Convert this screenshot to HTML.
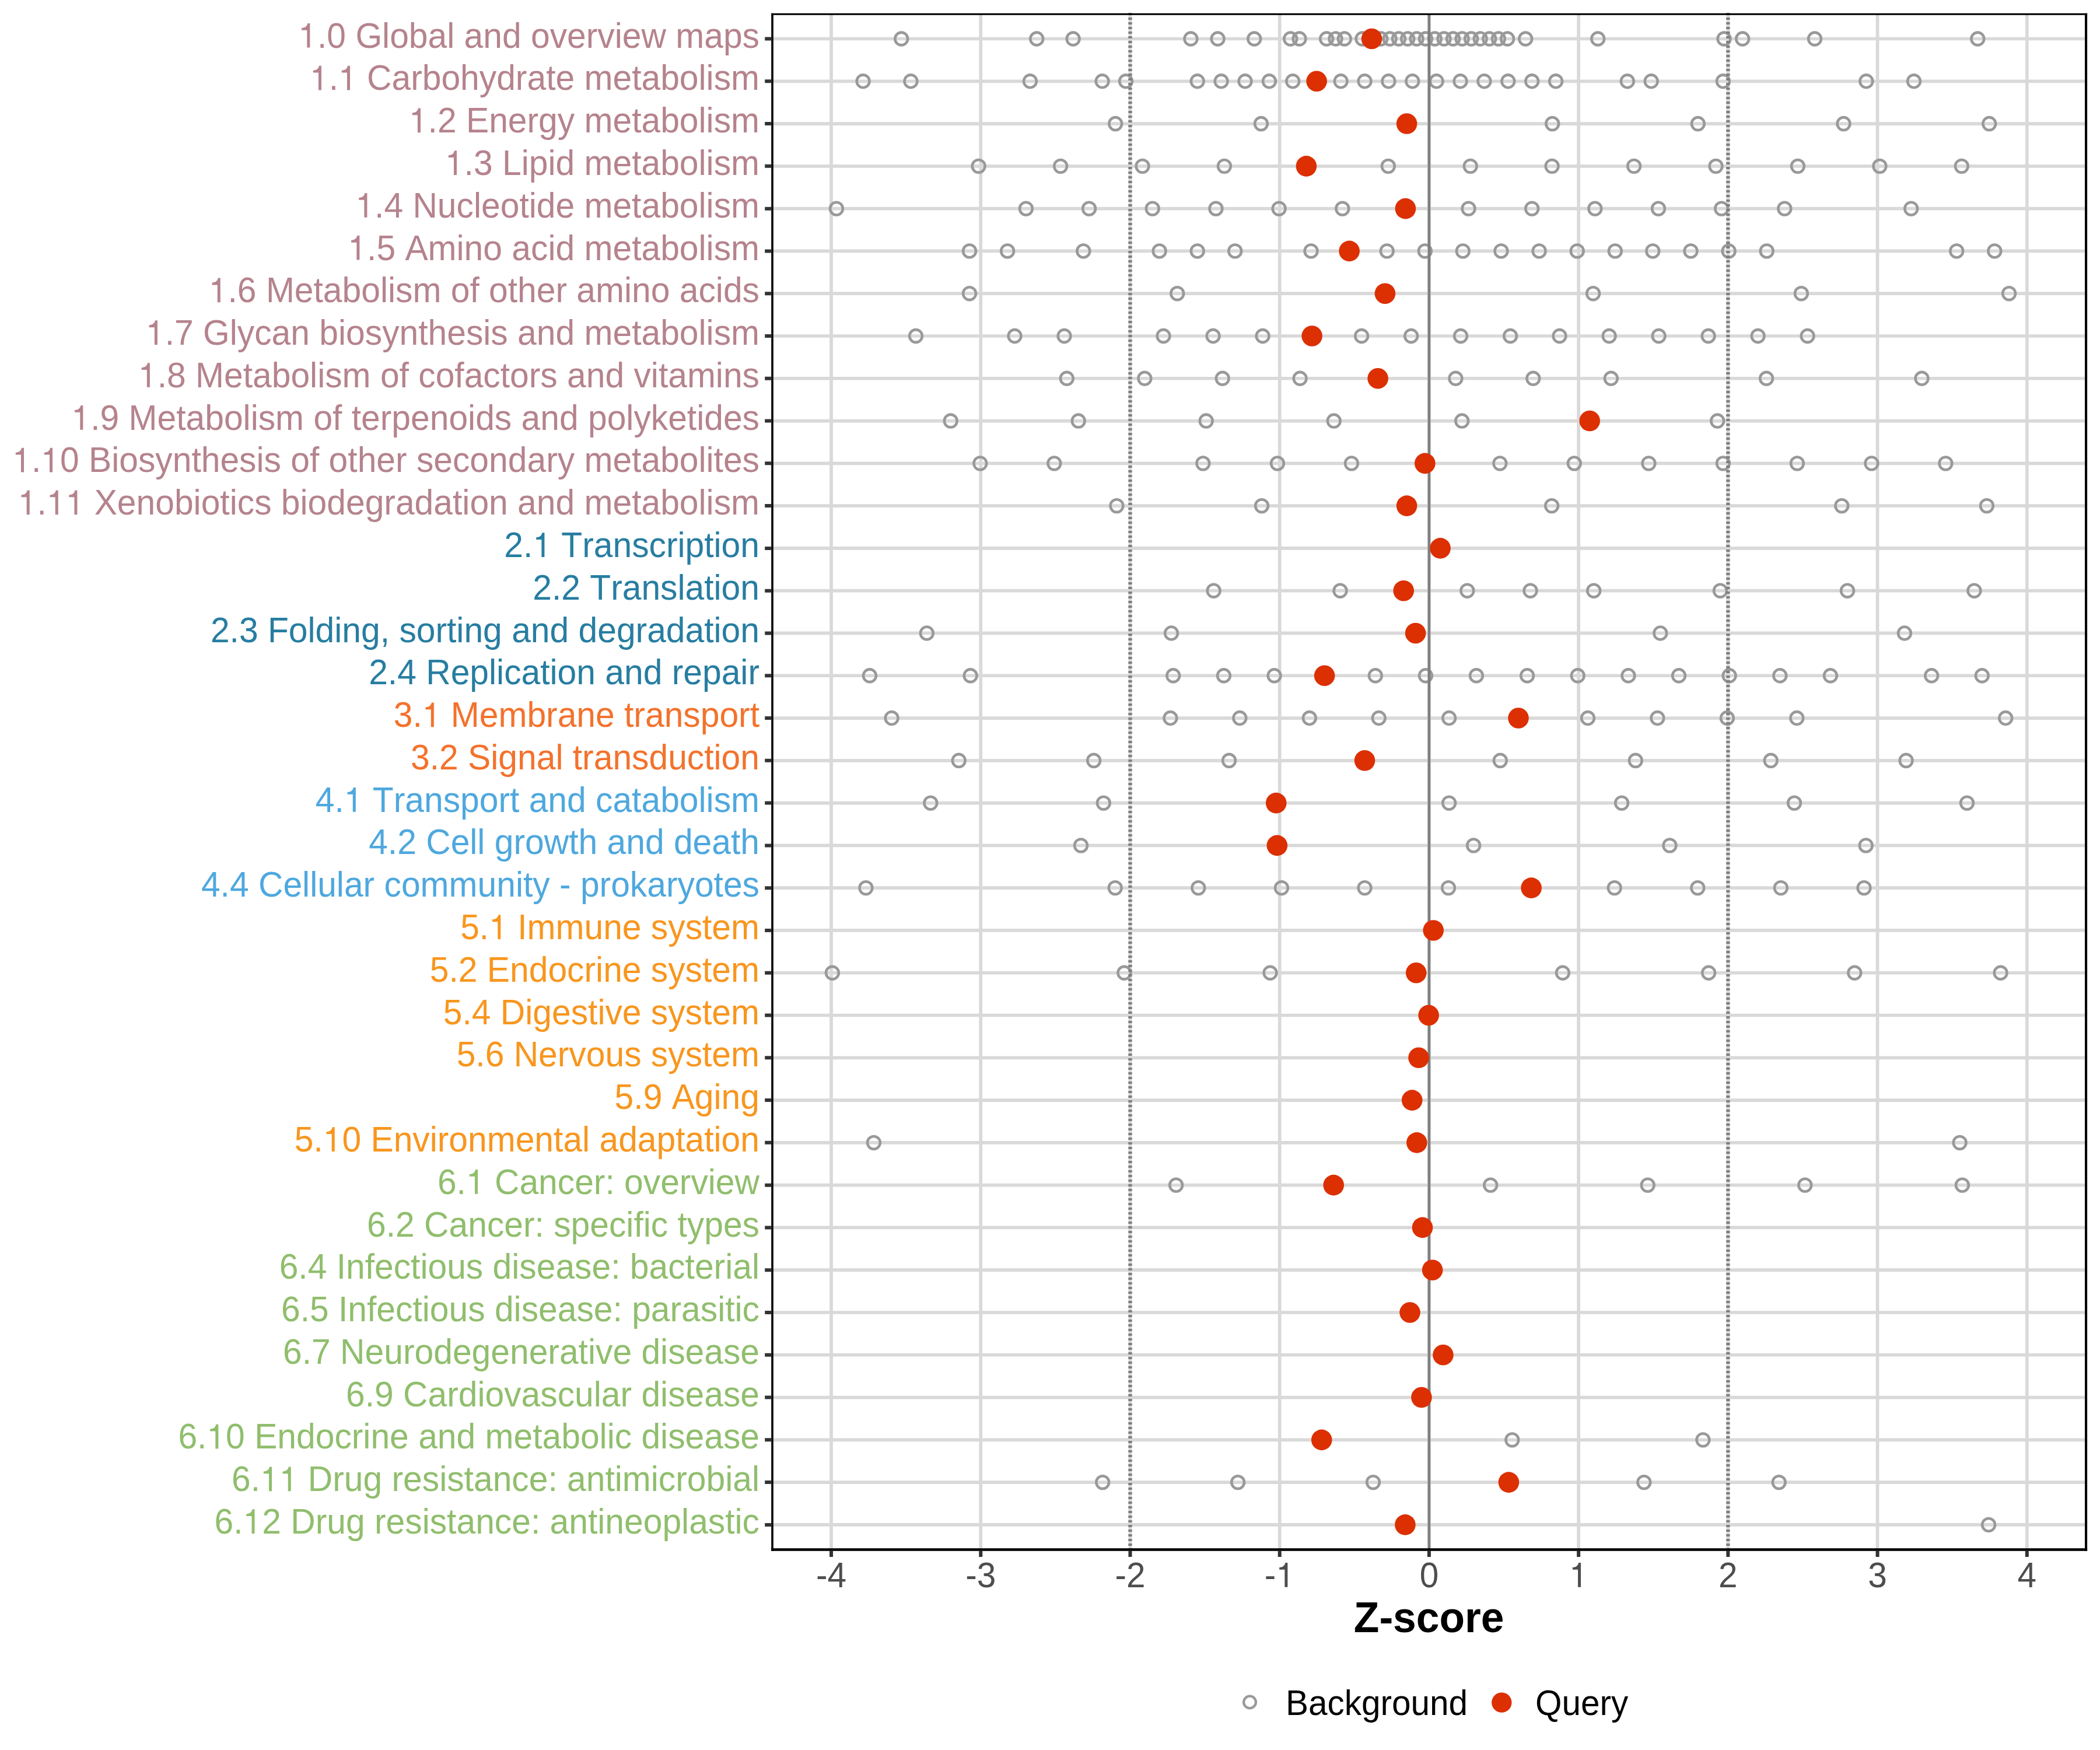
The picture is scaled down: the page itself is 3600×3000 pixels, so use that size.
<!DOCTYPE html><html><head><meta charset="utf-8"><style>html,body{margin:0;padding:0;background:#fff;overflow:hidden;width:3600px;height:3000px;}svg{display:block;}text{font-family:"Liberation Sans",sans-serif;font-kerning:none;}</style></head><body>
<svg width="3600" height="3000" viewBox="0 0 3600 3000">
<rect x="0" y="0" width="3600" height="3000" fill="#fff"/>
<path d="M1324.0 66.50H3576.0M1324.0 139.28H3576.0M1324.0 212.07H3576.0M1324.0 284.85H3576.0M1324.0 357.63H3576.0M1324.0 430.42H3576.0M1324.0 503.20H3576.0M1324.0 575.98H3576.0M1324.0 648.76H3576.0M1324.0 721.55H3576.0M1324.0 794.33H3576.0M1324.0 867.11H3576.0M1324.0 939.90H3576.0M1324.0 1012.68H3576.0M1324.0 1085.46H3576.0M1324.0 1158.25H3576.0M1324.0 1231.03H3576.0M1324.0 1303.81H3576.0M1324.0 1376.59H3576.0M1324.0 1449.38H3576.0M1324.0 1522.16H3576.0M1324.0 1594.94H3576.0M1324.0 1667.73H3576.0M1324.0 1740.51H3576.0M1324.0 1813.29H3576.0M1324.0 1886.08H3576.0M1324.0 1958.86H3576.0M1324.0 2031.64H3576.0M1324.0 2104.42H3576.0M1324.0 2177.21H3576.0M1324.0 2249.99H3576.0M1324.0 2322.77H3576.0M1324.0 2395.56H3576.0M1324.0 2468.34H3576.0M1324.0 2541.12H3576.0M1324.0 2613.91H3576.0M1425.00 24.3V2656.5M1681.22 24.3V2656.5M1937.45 24.3V2656.5M2193.68 24.3V2656.5M2449.90 24.3V2656.5M2706.12 24.3V2656.5M2962.35 24.3V2656.5M3218.58 24.3V2656.5M3474.80 24.3V2656.5" stroke="#D9D9D9" stroke-width="5.7" fill="none"/>
<g fill="none" stroke="#999999" stroke-width="4.6"><circle cx="1545.2" cy="66.50" r="10.9"/><circle cx="1777.2" cy="66.50" r="10.9"/><circle cx="1839.6" cy="66.50" r="10.9"/><circle cx="2041.4" cy="66.50" r="10.9"/><circle cx="2087.6" cy="66.50" r="10.9"/><circle cx="2150.2" cy="66.50" r="10.9"/><circle cx="2212.2" cy="66.50" r="10.9"/><circle cx="2227.5" cy="66.50" r="10.9"/><circle cx="2274.1" cy="66.50" r="10.9"/><circle cx="2289.5" cy="66.50" r="10.9"/><circle cx="2304.8" cy="66.50" r="10.9"/><circle cx="2335.5" cy="66.50" r="10.9"/><circle cx="2367.2" cy="66.50" r="10.9"/><circle cx="2382.6" cy="66.50" r="10.9"/><circle cx="2397.9" cy="66.50" r="10.9"/><circle cx="2413.2" cy="66.50" r="10.9"/><circle cx="2428.6" cy="66.50" r="10.9"/><circle cx="2443.9" cy="66.50" r="10.9"/><circle cx="2459.7" cy="66.50" r="10.9"/><circle cx="2475.5" cy="66.50" r="10.9"/><circle cx="2491.0" cy="66.50" r="10.9"/><circle cx="2506.6" cy="66.50" r="10.9"/><circle cx="2522.1" cy="66.50" r="10.9"/><circle cx="2537.7" cy="66.50" r="10.9"/><circle cx="2553.2" cy="66.50" r="10.9"/><circle cx="2568.8" cy="66.50" r="10.9"/><circle cx="2584.1" cy="66.50" r="10.9"/><circle cx="2615.2" cy="66.50" r="10.9"/><circle cx="2739.2" cy="66.50" r="10.9"/><circle cx="2955.5" cy="66.50" r="10.9"/><circle cx="2987.2" cy="66.50" r="10.9"/><circle cx="3111.0" cy="66.50" r="10.9"/><circle cx="3390.3" cy="66.50" r="10.9"/><circle cx="1479.6" cy="139.28" r="10.9"/><circle cx="1561.4" cy="139.28" r="10.9"/><circle cx="1765.9" cy="139.28" r="10.9"/><circle cx="1889.6" cy="139.28" r="10.9"/><circle cx="1930.0" cy="139.28" r="10.9"/><circle cx="2052.7" cy="139.28" r="10.9"/><circle cx="2093.6" cy="139.28" r="10.9"/><circle cx="2134.5" cy="139.28" r="10.9"/><circle cx="2175.9" cy="139.28" r="10.9"/><circle cx="2216.2" cy="139.28" r="10.9"/><circle cx="2298.6" cy="139.28" r="10.9"/><circle cx="2339.5" cy="139.28" r="10.9"/><circle cx="2380.4" cy="139.28" r="10.9"/><circle cx="2421.3" cy="139.28" r="10.9"/><circle cx="2462.6" cy="139.28" r="10.9"/><circle cx="2503.5" cy="139.28" r="10.9"/><circle cx="2544.4" cy="139.28" r="10.9"/><circle cx="2585.3" cy="139.28" r="10.9"/><circle cx="2626.2" cy="139.28" r="10.9"/><circle cx="2667.1" cy="139.28" r="10.9"/><circle cx="2789.8" cy="139.28" r="10.9"/><circle cx="2830.7" cy="139.28" r="10.9"/><circle cx="2953.9" cy="139.28" r="10.9"/><circle cx="3199.3" cy="139.28" r="10.9"/><circle cx="3281.0" cy="139.28" r="10.9"/><circle cx="1912.2" cy="212.07" r="10.9"/><circle cx="2161.9" cy="212.07" r="10.9"/><circle cx="2661.2" cy="212.07" r="10.9"/><circle cx="2910.8" cy="212.07" r="10.9"/><circle cx="3160.5" cy="212.07" r="10.9"/><circle cx="3410.2" cy="212.07" r="10.9"/><circle cx="1677.6" cy="284.85" r="10.9"/><circle cx="1818.1" cy="284.85" r="10.9"/><circle cx="1958.5" cy="284.85" r="10.9"/><circle cx="2098.9" cy="284.85" r="10.9"/><circle cx="2379.8" cy="284.85" r="10.9"/><circle cx="2520.7" cy="284.85" r="10.9"/><circle cx="2660.6" cy="284.85" r="10.9"/><circle cx="2801.1" cy="284.85" r="10.9"/><circle cx="2941.5" cy="284.85" r="10.9"/><circle cx="3081.9" cy="284.85" r="10.9"/><circle cx="3222.4" cy="284.85" r="10.9"/><circle cx="3362.8" cy="284.85" r="10.9"/><circle cx="1433.9" cy="357.63" r="10.9"/><circle cx="1758.9" cy="357.63" r="10.9"/><circle cx="1867.0" cy="357.63" r="10.9"/><circle cx="1975.7" cy="357.63" r="10.9"/><circle cx="2084.4" cy="357.63" r="10.9"/><circle cx="2192.6" cy="357.63" r="10.9"/><circle cx="2301.3" cy="357.63" r="10.9"/><circle cx="2517.5" cy="357.63" r="10.9"/><circle cx="2626.2" cy="357.63" r="10.9"/><circle cx="2734.3" cy="357.63" r="10.9"/><circle cx="2843.0" cy="357.63" r="10.9"/><circle cx="2951.2" cy="357.63" r="10.9"/><circle cx="3059.3" cy="357.63" r="10.9"/><circle cx="3276.2" cy="357.63" r="10.9"/><circle cx="1662.0" cy="430.42" r="10.9"/><circle cx="1727.1" cy="430.42" r="10.9"/><circle cx="1857.3" cy="430.42" r="10.9"/><circle cx="1987.6" cy="430.42" r="10.9"/><circle cx="2052.7" cy="430.42" r="10.9"/><circle cx="2117.2" cy="430.42" r="10.9"/><circle cx="2247.5" cy="430.42" r="10.9"/><circle cx="2377.7" cy="430.42" r="10.9"/><circle cx="2442.8" cy="430.42" r="10.9"/><circle cx="2507.8" cy="430.42" r="10.9"/><circle cx="2573.4" cy="430.42" r="10.9"/><circle cx="2638.6" cy="430.42" r="10.9"/><circle cx="2703.7" cy="430.42" r="10.9"/><circle cx="2768.8" cy="430.42" r="10.9"/><circle cx="2833.3" cy="430.42" r="10.9"/><circle cx="2898.5" cy="430.42" r="10.9"/><circle cx="2963.6" cy="430.42" r="10.9"/><circle cx="3028.7" cy="430.42" r="10.9"/><circle cx="3354.2" cy="430.42" r="10.9"/><circle cx="3419.3" cy="430.42" r="10.9"/><circle cx="1662.0" cy="503.20" r="10.9"/><circle cx="2018.2" cy="503.20" r="10.9"/><circle cx="2731.1" cy="503.20" r="10.9"/><circle cx="3087.9" cy="503.20" r="10.9"/><circle cx="3444.1" cy="503.20" r="10.9"/><circle cx="1570.0" cy="575.98" r="10.9"/><circle cx="1739.5" cy="575.98" r="10.9"/><circle cx="1824.5" cy="575.98" r="10.9"/><circle cx="1994.5" cy="575.98" r="10.9"/><circle cx="2079.6" cy="575.98" r="10.9"/><circle cx="2164.6" cy="575.98" r="10.9"/><circle cx="2334.1" cy="575.98" r="10.9"/><circle cx="2419.1" cy="575.98" r="10.9"/><circle cx="2504.0" cy="575.98" r="10.9"/><circle cx="2589.1" cy="575.98" r="10.9"/><circle cx="2673.5" cy="575.98" r="10.9"/><circle cx="2758.6" cy="575.98" r="10.9"/><circle cx="2843.6" cy="575.98" r="10.9"/><circle cx="2928.6" cy="575.98" r="10.9"/><circle cx="3013.6" cy="575.98" r="10.9"/><circle cx="3098.6" cy="575.98" r="10.9"/><circle cx="1828.8" cy="648.76" r="10.9"/><circle cx="1962.3" cy="648.76" r="10.9"/><circle cx="2095.7" cy="648.76" r="10.9"/><circle cx="2228.6" cy="648.76" r="10.9"/><circle cx="2495.4" cy="648.76" r="10.9"/><circle cx="2628.3" cy="648.76" r="10.9"/><circle cx="2761.8" cy="648.76" r="10.9"/><circle cx="3028.1" cy="648.76" r="10.9"/><circle cx="3294.5" cy="648.76" r="10.9"/><circle cx="1629.7" cy="721.55" r="10.9"/><circle cx="1848.7" cy="721.55" r="10.9"/><circle cx="2067.7" cy="721.55" r="10.9"/><circle cx="2286.7" cy="721.55" r="10.9"/><circle cx="2506.2" cy="721.55" r="10.9"/><circle cx="2944.2" cy="721.55" r="10.9"/><circle cx="1680.3" cy="794.33" r="10.9"/><circle cx="1807.3" cy="794.33" r="10.9"/><circle cx="2062.3" cy="794.33" r="10.9"/><circle cx="2189.9" cy="794.33" r="10.9"/><circle cx="2316.9" cy="794.33" r="10.9"/><circle cx="2571.3" cy="794.33" r="10.9"/><circle cx="2698.8" cy="794.33" r="10.9"/><circle cx="2826.4" cy="794.33" r="10.9"/><circle cx="2953.9" cy="794.33" r="10.9"/><circle cx="3080.9" cy="794.33" r="10.9"/><circle cx="3208.4" cy="794.33" r="10.9"/><circle cx="3335.4" cy="794.33" r="10.9"/><circle cx="1914.4" cy="867.11" r="10.9"/><circle cx="2163.0" cy="867.11" r="10.9"/><circle cx="2660.1" cy="867.11" r="10.9"/><circle cx="3157.3" cy="867.11" r="10.9"/><circle cx="3405.9" cy="867.11" r="10.9"/><circle cx="2080.6" cy="1012.68" r="10.9"/><circle cx="2297.5" cy="1012.68" r="10.9"/><circle cx="2515.3" cy="1012.68" r="10.9"/><circle cx="2623.5" cy="1012.68" r="10.9"/><circle cx="2732.2" cy="1012.68" r="10.9"/><circle cx="2949.0" cy="1012.68" r="10.9"/><circle cx="3167.0" cy="1012.68" r="10.9"/><circle cx="3384.4" cy="1012.68" r="10.9"/><circle cx="1588.8" cy="1085.46" r="10.9"/><circle cx="2008.0" cy="1085.46" r="10.9"/><circle cx="2846.3" cy="1085.46" r="10.9"/><circle cx="3264.9" cy="1085.46" r="10.9"/><circle cx="1490.9" cy="1158.25" r="10.9"/><circle cx="1663.6" cy="1158.25" r="10.9"/><circle cx="2011.2" cy="1158.25" r="10.9"/><circle cx="2097.9" cy="1158.25" r="10.9"/><circle cx="2184.5" cy="1158.25" r="10.9"/><circle cx="2357.8" cy="1158.25" r="10.9"/><circle cx="2443.9" cy="1158.25" r="10.9"/><circle cx="2530.9" cy="1158.25" r="10.9"/><circle cx="2618.1" cy="1158.25" r="10.9"/><circle cx="2704.7" cy="1158.25" r="10.9"/><circle cx="2791.4" cy="1158.25" r="10.9"/><circle cx="2878.0" cy="1158.25" r="10.9"/><circle cx="2964.6" cy="1158.25" r="10.9"/><circle cx="3051.3" cy="1158.25" r="10.9"/><circle cx="3137.9" cy="1158.25" r="10.9"/><circle cx="3311.2" cy="1158.25" r="10.9"/><circle cx="3397.8" cy="1158.25" r="10.9"/><circle cx="1528.6" cy="1231.03" r="10.9"/><circle cx="2006.4" cy="1231.03" r="10.9"/><circle cx="2125.3" cy="1231.03" r="10.9"/><circle cx="2244.8" cy="1231.03" r="10.9"/><circle cx="2363.7" cy="1231.03" r="10.9"/><circle cx="2484.1" cy="1231.03" r="10.9"/><circle cx="2722.0" cy="1231.03" r="10.9"/><circle cx="2841.4" cy="1231.03" r="10.9"/><circle cx="2960.9" cy="1231.03" r="10.9"/><circle cx="3080.3" cy="1231.03" r="10.9"/><circle cx="3438.2" cy="1231.03" r="10.9"/><circle cx="1643.7" cy="1303.81" r="10.9"/><circle cx="1875.1" cy="1303.81" r="10.9"/><circle cx="2107.0" cy="1303.81" r="10.9"/><circle cx="2571.8" cy="1303.81" r="10.9"/><circle cx="2803.8" cy="1303.81" r="10.9"/><circle cx="3035.7" cy="1303.81" r="10.9"/><circle cx="3267.6" cy="1303.81" r="10.9"/><circle cx="1595.3" cy="1376.59" r="10.9"/><circle cx="1891.8" cy="1376.59" r="10.9"/><circle cx="2484.1" cy="1376.59" r="10.9"/><circle cx="2780.1" cy="1376.59" r="10.9"/><circle cx="3076.0" cy="1376.59" r="10.9"/><circle cx="3372.0" cy="1376.59" r="10.9"/><circle cx="1853.0" cy="1449.38" r="10.9"/><circle cx="2526.1" cy="1449.38" r="10.9"/><circle cx="2862.4" cy="1449.38" r="10.9"/><circle cx="3198.7" cy="1449.38" r="10.9"/><circle cx="1484.4" cy="1522.16" r="10.9"/><circle cx="1911.7" cy="1522.16" r="10.9"/><circle cx="2054.3" cy="1522.16" r="10.9"/><circle cx="2196.9" cy="1522.16" r="10.9"/><circle cx="2339.5" cy="1522.16" r="10.9"/><circle cx="2483.0" cy="1522.16" r="10.9"/><circle cx="2767.7" cy="1522.16" r="10.9"/><circle cx="2910.3" cy="1522.16" r="10.9"/><circle cx="3052.9" cy="1522.16" r="10.9"/><circle cx="3195.5" cy="1522.16" r="10.9"/><circle cx="1426.9" cy="1667.73" r="10.9"/><circle cx="1927.3" cy="1667.73" r="10.9"/><circle cx="2177.5" cy="1667.73" r="10.9"/><circle cx="2678.9" cy="1667.73" r="10.9"/><circle cx="2929.1" cy="1667.73" r="10.9"/><circle cx="3179.3" cy="1667.73" r="10.9"/><circle cx="3429.6" cy="1667.73" r="10.9"/><circle cx="1497.9" cy="1958.86" r="10.9"/><circle cx="3359.6" cy="1958.86" r="10.9"/><circle cx="2016.1" cy="2031.64" r="10.9"/><circle cx="2555.2" cy="2031.64" r="10.9"/><circle cx="2824.7" cy="2031.64" r="10.9"/><circle cx="3094.3" cy="2031.64" r="10.9"/><circle cx="3363.9" cy="2031.64" r="10.9"/><circle cx="2592.3" cy="2468.34" r="10.9"/><circle cx="2919.4" cy="2468.34" r="10.9"/><circle cx="1890.2" cy="2541.12" r="10.9"/><circle cx="2122.1" cy="2541.12" r="10.9"/><circle cx="2354.0" cy="2541.12" r="10.9"/><circle cx="2818.3" cy="2541.12" r="10.9"/><circle cx="3049.7" cy="2541.12" r="10.9"/><circle cx="3409.1" cy="2613.91" r="10.9"/></g>
<path d="M1937.45 22V2656.5M2962.35 22V2656.5" stroke="#7F7F7F" stroke-width="6.4" stroke-dasharray="4 4" fill="none"/>
<path d="M2449.90 24.3V2656.5" stroke="#7F7F7F" stroke-width="4.6" fill="none"/>
<g fill="#DC2F02"><circle cx="2351.5" cy="66.50" r="17.8"/><circle cx="2257.1" cy="139.28" r="17.8"/><circle cx="2411.6" cy="212.07" r="17.8"/><circle cx="2239.4" cy="284.85" r="17.8"/><circle cx="2409.4" cy="357.63" r="17.8"/><circle cx="2313.1" cy="430.42" r="17.8"/><circle cx="2374.4" cy="503.20" r="17.8"/><circle cx="2249.1" cy="575.98" r="17.8"/><circle cx="2362.1" cy="648.76" r="17.8"/><circle cx="2725.2" cy="721.55" r="17.8"/><circle cx="2442.8" cy="794.33" r="17.8"/><circle cx="2411.6" cy="867.11" r="17.8"/><circle cx="2469.1" cy="939.90" r="17.8"/><circle cx="2406.2" cy="1012.68" r="17.8"/><circle cx="2426.6" cy="1085.46" r="17.8"/><circle cx="2270.6" cy="1158.25" r="17.8"/><circle cx="2603.0" cy="1231.03" r="17.8"/><circle cx="2339.5" cy="1303.81" r="17.8"/><circle cx="2187.7" cy="1376.59" r="17.8"/><circle cx="2189.3" cy="1449.38" r="17.8"/><circle cx="2625.1" cy="1522.16" r="17.8"/><circle cx="2457.2" cy="1594.94" r="17.8"/><circle cx="2427.7" cy="1667.73" r="17.8"/><circle cx="2449.1" cy="1740.51" r="17.8"/><circle cx="2432.0" cy="1813.29" r="17.8"/><circle cx="2420.7" cy="1886.08" r="17.8"/><circle cx="2428.8" cy="1958.86" r="17.8"/><circle cx="2286.2" cy="2031.64" r="17.8"/><circle cx="2438.5" cy="2104.42" r="17.8"/><circle cx="2455.6" cy="2177.21" r="17.8"/><circle cx="2417.0" cy="2249.99" r="17.8"/><circle cx="2473.9" cy="2322.77" r="17.8"/><circle cx="2436.9" cy="2395.56" r="17.8"/><circle cx="2265.7" cy="2468.34" r="17.8"/><circle cx="2586.4" cy="2541.12" r="17.8"/><circle cx="2408.9" cy="2613.91" r="17.8"/></g>
<rect x="1322.2" y="22.8" width="2255.9" height="3" fill="#000"/>
<rect x="1322.2" y="22.8" width="3.6" height="2636.0" fill="#000"/>
<rect x="3574" y="22.8" width="4.1" height="2636.0" fill="#000"/>
<rect x="1322.2" y="2654.2" width="2255.9" height="4.6" fill="#000"/>
<path d="M1311.2 66.50H1322.2M1311.2 139.28H1322.2M1311.2 212.07H1322.2M1311.2 284.85H1322.2M1311.2 357.63H1322.2M1311.2 430.42H1322.2M1311.2 503.20H1322.2M1311.2 575.98H1322.2M1311.2 648.76H1322.2M1311.2 721.55H1322.2M1311.2 794.33H1322.2M1311.2 867.11H1322.2M1311.2 939.90H1322.2M1311.2 1012.68H1322.2M1311.2 1085.46H1322.2M1311.2 1158.25H1322.2M1311.2 1231.03H1322.2M1311.2 1303.81H1322.2M1311.2 1376.59H1322.2M1311.2 1449.38H1322.2M1311.2 1522.16H1322.2M1311.2 1594.94H1322.2M1311.2 1667.73H1322.2M1311.2 1740.51H1322.2M1311.2 1813.29H1322.2M1311.2 1886.08H1322.2M1311.2 1958.86H1322.2M1311.2 2031.64H1322.2M1311.2 2104.42H1322.2M1311.2 2177.21H1322.2M1311.2 2249.99H1322.2M1311.2 2322.77H1322.2M1311.2 2395.56H1322.2M1311.2 2468.34H1322.2M1311.2 2541.12H1322.2M1311.2 2613.91H1322.2M1425.00 2658.8V2669M1681.22 2658.8V2669M1937.45 2658.8V2669M2193.68 2658.8V2669M2449.90 2658.8V2669M2706.12 2658.8V2669M2962.35 2658.8V2669M3218.58 2658.8V2669M3474.80 2658.8V2669" stroke="#333333" stroke-width="6" fill="none"/>
<g transform="translate(1302 81.60) scale(1 1.025)" fill="#B5838D"><text text-anchor="end" font-size="58.8"> .0 Global and overview maps</text><path transform="translate(-790.96 0) scale(58.8)" d="M0.260 0L0.345 0L0.345 -0.692L0.277 -0.692C0.265 -0.615 0.205 -0.560 0.103 -0.560L0.103 -0.496L0.260 -0.496Z"/></g>
<g transform="translate(1302 154.38) scale(1 1.025)" fill="#B5838D"><text text-anchor="end" font-size="58.8"> .  Carbohydrate metabolism</text><path transform="translate(-771.32 0) scale(58.8)" d="M0.260 0L0.345 0L0.345 -0.692L0.277 -0.692C0.265 -0.615 0.205 -0.560 0.103 -0.560L0.103 -0.496L0.260 -0.496Z"/><path transform="translate(-722.28 0) scale(58.8)" d="M0.260 0L0.345 0L0.345 -0.692L0.277 -0.692C0.265 -0.615 0.205 -0.560 0.103 -0.560L0.103 -0.496L0.260 -0.496Z"/></g>
<g transform="translate(1302 227.17) scale(1 1.025)" fill="#B5838D"><text text-anchor="end" font-size="58.8"> .2 Energy metabolism</text><path transform="translate(-601.35 0) scale(58.8)" d="M0.260 0L0.345 0L0.345 -0.692L0.277 -0.692C0.265 -0.615 0.205 -0.560 0.103 -0.560L0.103 -0.496L0.260 -0.496Z"/></g>
<g transform="translate(1302 299.95) scale(1 1.025)" fill="#B5838D"><text text-anchor="end" font-size="58.8"> .3 Lipid metabolism</text><path transform="translate(-539.28 0) scale(58.8)" d="M0.260 0L0.345 0L0.345 -0.692L0.277 -0.692C0.265 -0.615 0.205 -0.560 0.103 -0.560L0.103 -0.496L0.260 -0.496Z"/></g>
<g transform="translate(1302 372.73) scale(1 1.025)" fill="#B5838D"><text text-anchor="end" font-size="58.8"> .4 Nucleotide metabolism</text><path transform="translate(-692.88 0) scale(58.8)" d="M0.260 0L0.345 0L0.345 -0.692L0.277 -0.692C0.265 -0.615 0.205 -0.560 0.103 -0.560L0.103 -0.496L0.260 -0.496Z"/></g>
<g transform="translate(1302 445.52) scale(1 1.025)" fill="#B5838D"><text text-anchor="end" font-size="58.8"> .5 Amino acid metabolism</text><path transform="translate(-705.92 0) scale(58.8)" d="M0.260 0L0.345 0L0.345 -0.692L0.277 -0.692C0.265 -0.615 0.205 -0.560 0.103 -0.560L0.103 -0.496L0.260 -0.496Z"/></g>
<g transform="translate(1302 518.30) scale(1 1.025)" fill="#B5838D"><text text-anchor="end" font-size="58.8"> .6 Metabolism of other amino acids</text><path transform="translate(-944.53 0) scale(58.8)" d="M0.260 0L0.345 0L0.345 -0.692L0.277 -0.692C0.265 -0.615 0.205 -0.560 0.103 -0.560L0.103 -0.496L0.260 -0.496Z"/></g>
<g transform="translate(1302 591.08) scale(1 1.025)" fill="#B5838D"><text text-anchor="end" font-size="58.8"> .7 Glycan biosynthesis and metabolism</text><path transform="translate(-1052.40 0) scale(58.8)" d="M0.260 0L0.345 0L0.345 -0.692L0.277 -0.692C0.265 -0.615 0.205 -0.560 0.103 -0.560L0.103 -0.496L0.260 -0.496Z"/></g>
<g transform="translate(1302 663.86) scale(1 1.025)" fill="#B5838D"><text text-anchor="end" font-size="58.8"> .8 Metabolism of cofactors and vitamins</text><path transform="translate(-1065.41 0) scale(58.8)" d="M0.260 0L0.345 0L0.345 -0.692L0.277 -0.692C0.265 -0.615 0.205 -0.560 0.103 -0.560L0.103 -0.496L0.260 -0.496Z"/></g>
<g transform="translate(1302 736.65) scale(1 1.025)" fill="#B5838D"><text text-anchor="end" font-size="58.8"> .9 Metabolism of terpenoids and polyketides</text><path transform="translate(-1179.96 0) scale(58.8)" d="M0.260 0L0.345 0L0.345 -0.692L0.277 -0.692C0.265 -0.615 0.205 -0.560 0.103 -0.560L0.103 -0.496L0.260 -0.496Z"/></g>
<g transform="translate(1302 809.43) scale(1 1.025)" fill="#B5838D"><text text-anchor="end" font-size="58.8"> . 0 Biosynthesis of other secondary metabolites</text><path transform="translate(-1281.25 0) scale(58.8)" d="M0.260 0L0.345 0L0.345 -0.692L0.277 -0.692C0.265 -0.615 0.205 -0.560 0.103 -0.560L0.103 -0.496L0.260 -0.496Z"/><path transform="translate(-1232.22 0) scale(58.8)" d="M0.260 0L0.345 0L0.345 -0.692L0.277 -0.692C0.265 -0.615 0.205 -0.560 0.103 -0.560L0.103 -0.496L0.260 -0.496Z"/></g>
<g transform="translate(1302 882.21) scale(1 1.025)" fill="#B5838D"><text text-anchor="end" font-size="58.8"> .   Xenobiotics biodegradation and metabolism</text><path transform="translate(-1271.58 0) scale(58.8)" d="M0.260 0L0.345 0L0.345 -0.692L0.277 -0.692C0.265 -0.615 0.205 -0.560 0.103 -0.560L0.103 -0.496L0.260 -0.496Z"/><path transform="translate(-1222.54 0) scale(58.8)" d="M0.260 0L0.345 0L0.345 -0.692L0.277 -0.692C0.265 -0.615 0.205 -0.560 0.103 -0.560L0.103 -0.496L0.260 -0.496Z"/><path transform="translate(-1189.84 0) scale(58.8)" d="M0.260 0L0.345 0L0.345 -0.692L0.277 -0.692C0.265 -0.615 0.205 -0.560 0.103 -0.560L0.103 -0.496L0.260 -0.496Z"/></g>
<g transform="translate(1302 955.00) scale(1 1.025)" fill="#277DA1"><text text-anchor="end" font-size="58.8">2.  Transcription</text><path transform="translate(-388.89 0) scale(58.8)" d="M0.260 0L0.345 0L0.345 -0.692L0.277 -0.692C0.265 -0.615 0.205 -0.560 0.103 -0.560L0.103 -0.496L0.260 -0.496Z"/></g>
<g transform="translate(1302 1027.78) scale(1 1.025)" fill="#277DA1"><text text-anchor="end" font-size="58.8">2.2 Translation</text></g>
<g transform="translate(1302 1100.56) scale(1 1.025)" fill="#277DA1"><text text-anchor="end" font-size="58.8">2.3 Folding, sorting and degradation</text></g>
<g transform="translate(1302 1173.35) scale(1 1.025)" fill="#277DA1"><text text-anchor="end" font-size="58.8">2.4 Replication and repair</text></g>
<g transform="translate(1302 1246.13) scale(1 1.025)" fill="#F3722C"><text text-anchor="end" font-size="58.8">3.  Membrane transport</text><path transform="translate(-578.47 0) scale(58.8)" d="M0.260 0L0.345 0L0.345 -0.692L0.277 -0.692C0.265 -0.615 0.205 -0.560 0.103 -0.560L0.103 -0.496L0.260 -0.496Z"/></g>
<g transform="translate(1302 1318.91) scale(1 1.025)" fill="#F3722C"><text text-anchor="end" font-size="58.8">3.2 Signal transduction</text></g>
<g transform="translate(1302 1391.69) scale(1 1.025)" fill="#4EA8DE"><text text-anchor="end" font-size="58.8">4.  Transport and catabolism</text><path transform="translate(-712.49 0) scale(58.8)" d="M0.260 0L0.345 0L0.345 -0.692L0.277 -0.692C0.265 -0.615 0.205 -0.560 0.103 -0.560L0.103 -0.496L0.260 -0.496Z"/></g>
<g transform="translate(1302 1464.48) scale(1 1.025)" fill="#4EA8DE"><text text-anchor="end" font-size="58.8">4.2 Cell growth and death</text></g>
<g transform="translate(1302 1537.26) scale(1 1.025)" fill="#4EA8DE"><text text-anchor="end" font-size="58.8">4.4 Cellular community - prokaryotes</text></g>
<g transform="translate(1302 1610.04) scale(1 1.025)" fill="#F8961E"><text text-anchor="end" font-size="58.8">5.  Immune system</text><path transform="translate(-464.00 0) scale(58.8)" d="M0.260 0L0.345 0L0.345 -0.692L0.277 -0.692C0.265 -0.615 0.205 -0.560 0.103 -0.560L0.103 -0.496L0.260 -0.496Z"/></g>
<g transform="translate(1302 1682.83) scale(1 1.025)" fill="#F8961E"><text text-anchor="end" font-size="58.8">5.2 Endocrine system</text></g>
<g transform="translate(1302 1755.61) scale(1 1.025)" fill="#F8961E"><text text-anchor="end" font-size="58.8">5.4 Digestive system</text></g>
<g transform="translate(1302 1828.39) scale(1 1.025)" fill="#F8961E"><text text-anchor="end" font-size="58.8">5.6 Nervous system</text></g>
<g transform="translate(1302 1901.17) scale(1 1.025)" fill="#F8961E"><text text-anchor="end" font-size="58.8">5.9 Aging</text></g>
<g transform="translate(1302 1973.96) scale(1 1.025)" fill="#F8961E"><text text-anchor="end" font-size="58.8">5. 0 Environmental adaptation</text><path transform="translate(-748.58 0) scale(58.8)" d="M0.260 0L0.345 0L0.345 -0.692L0.277 -0.692C0.265 -0.615 0.205 -0.560 0.103 -0.560L0.103 -0.496L0.260 -0.496Z"/></g>
<g transform="translate(1302 2046.74) scale(1 1.025)" fill="#90BE6D"><text text-anchor="end" font-size="58.8">6.  Cancer: overview</text><path transform="translate(-503.27 0) scale(58.8)" d="M0.260 0L0.345 0L0.345 -0.692L0.277 -0.692C0.265 -0.615 0.205 -0.560 0.103 -0.560L0.103 -0.496L0.260 -0.496Z"/></g>
<g transform="translate(1302 2119.52) scale(1 1.025)" fill="#90BE6D"><text text-anchor="end" font-size="58.8">6.2 Cancer: specific types</text></g>
<g transform="translate(1302 2192.31) scale(1 1.025)" fill="#90BE6D"><text text-anchor="end" font-size="58.8">6.4 Infectious disease: bacterial</text></g>
<g transform="translate(1302 2265.09) scale(1 1.025)" fill="#90BE6D"><text text-anchor="end" font-size="58.8">6.5 Infectious disease: parasitic</text></g>
<g transform="translate(1302 2337.87) scale(1 1.025)" fill="#90BE6D"><text text-anchor="end" font-size="58.8">6.7 Neurodegenerative disease</text></g>
<g transform="translate(1302 2410.66) scale(1 1.025)" fill="#90BE6D"><text text-anchor="end" font-size="58.8">6.9 Cardiovascular disease</text></g>
<g transform="translate(1302 2483.44) scale(1 1.025)" fill="#90BE6D"><text text-anchor="end" font-size="58.8">6. 0 Endocrine and metabolic disease</text><path transform="translate(-947.95 0) scale(58.8)" d="M0.260 0L0.345 0L0.345 -0.692L0.277 -0.692C0.265 -0.615 0.205 -0.560 0.103 -0.560L0.103 -0.496L0.260 -0.496Z"/></g>
<g transform="translate(1302 2556.22) scale(1 1.025)" fill="#90BE6D"><text text-anchor="end" font-size="58.8">6.   Drug resistance: antimicrobial</text><path transform="translate(-856.25 0) scale(58.8)" d="M0.260 0L0.345 0L0.345 -0.692L0.277 -0.692C0.265 -0.615 0.205 -0.560 0.103 -0.560L0.103 -0.496L0.260 -0.496Z"/><path transform="translate(-823.54 0) scale(58.8)" d="M0.260 0L0.345 0L0.345 -0.692L0.277 -0.692C0.265 -0.615 0.205 -0.560 0.103 -0.560L0.103 -0.496L0.260 -0.496Z"/></g>
<g transform="translate(1302 2629.01) scale(1 1.025)" fill="#90BE6D"><text text-anchor="end" font-size="58.8">6. 2 Drug resistance: antineoplastic</text><path transform="translate(-885.76 0) scale(58.8)" d="M0.260 0L0.345 0L0.345 -0.692L0.277 -0.692C0.265 -0.615 0.205 -0.560 0.103 -0.560L0.103 -0.496L0.260 -0.496Z"/></g>
<g transform="translate(1425.00 2720.8) scale(1 1.035)" fill="#4D4D4D"><text text-anchor="middle" font-size="58.5">-4</text></g>
<g transform="translate(1681.22 2720.8) scale(1 1.035)" fill="#4D4D4D"><text text-anchor="middle" font-size="58.5">-3</text></g>
<g transform="translate(1937.45 2720.8) scale(1 1.035)" fill="#4D4D4D"><text text-anchor="middle" font-size="58.5">-2</text></g>
<g transform="translate(2193.68 2720.8) scale(1 1.035)" fill="#4D4D4D"><text text-anchor="middle" font-size="58.5">- </text><path transform="translate(-6.53 0) scale(58.5)" d="M0.260 0L0.345 0L0.345 -0.692L0.277 -0.692C0.265 -0.615 0.205 -0.560 0.103 -0.560L0.103 -0.496L0.260 -0.496Z"/></g>
<g transform="translate(2449.90 2720.8) scale(1 1.035)" fill="#4D4D4D"><text text-anchor="middle" font-size="58.5">0</text></g>
<g transform="translate(2706.12 2720.8) scale(1 1.035)" fill="#4D4D4D"><text text-anchor="middle" font-size="58.5"> </text><path transform="translate(-16.27 0) scale(58.5)" d="M0.260 0L0.345 0L0.345 -0.692L0.277 -0.692C0.265 -0.615 0.205 -0.560 0.103 -0.560L0.103 -0.496L0.260 -0.496Z"/></g>
<g transform="translate(2962.35 2720.8) scale(1 1.035)" fill="#4D4D4D"><text text-anchor="middle" font-size="58.5">2</text></g>
<g transform="translate(3218.58 2720.8) scale(1 1.035)" fill="#4D4D4D"><text text-anchor="middle" font-size="58.5">3</text></g>
<g transform="translate(3474.80 2720.8) scale(1 1.035)" fill="#4D4D4D"><text text-anchor="middle" font-size="58.5">4</text></g>
<text transform="translate(2449.6 2798) scale(1 1.045)" text-anchor="middle" font-size="71.3" font-weight="bold" fill="#000">Z-score</text>
<circle cx="2142.5" cy="2918" r="10.4" fill="none" stroke="#999999" stroke-width="4.3"/>
<text transform="translate(2204 2940.3) scale(1 1.035)" font-size="58.5" fill="#000">Background</text>
<circle cx="2574.3" cy="2918.6" r="17.2" fill="#DC2F02"/>
<text transform="translate(2632 2940.3) scale(1 1.035)" font-size="58.5" fill="#000">Query</text>
</svg></body></html>
